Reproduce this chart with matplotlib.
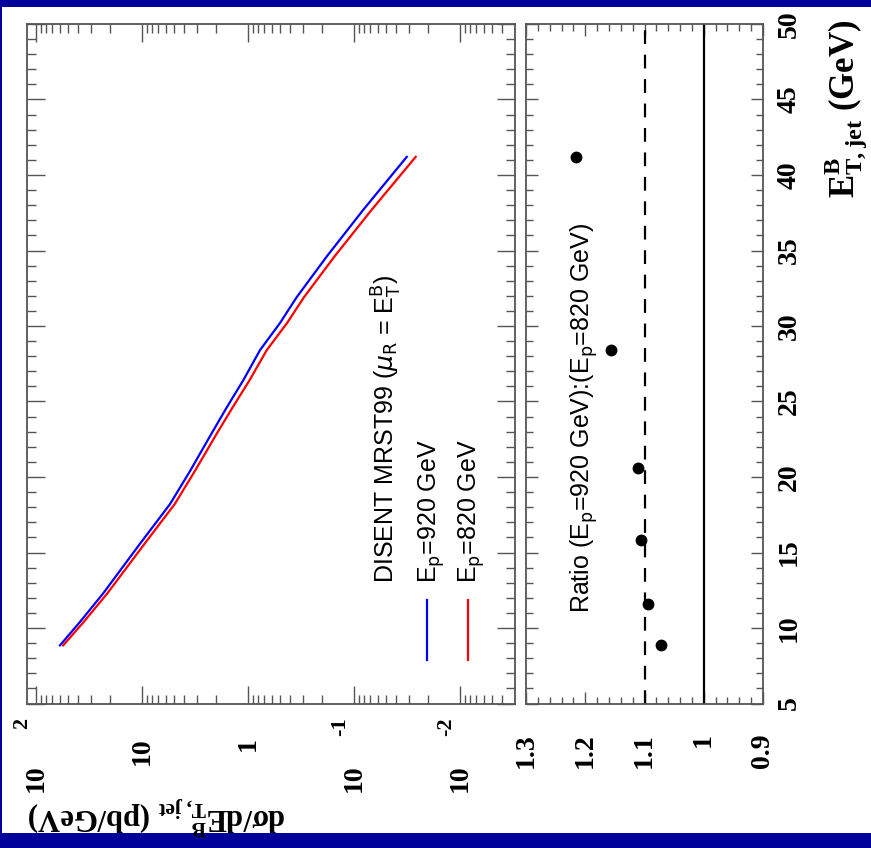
import numpy as np
import matplotlib
matplotlib.use('Agg')
import matplotlib.pyplot as plt
from matplotlib.patches import Rectangle
from matplotlib.ticker import LogLocator, MultipleLocator, NullFormatter

plt.rcParams['mathtext.fontset'] = 'custom'
plt.rcParams['mathtext.rm'] = 'Liberation Sans Narrow'
plt.rcParams['mathtext.it'] = 'Liberation Sans Narrow:italic'
plt.rcParams['mathtext.sf'] = 'Liberation Sans Narrow'
plt.rcParams['mathtext.bf'] = 'Liberation Serif:bold'

# DISENT NLO, MRST99, mu_R = E_T^B
et_curve = [8.85, 10.4, 12.3, 15.6, 18.2, 20.4, 22.9, 24.6, 26.4, 28.4,
            30.2, 31.9, 34.6, 37.7, 41.2]
xs_920 = [59.4, 38.5, 23.2, 10.4, 5.45, 3.52, 2.20, 1.59, 1.11, 0.771,
          0.499, 0.348, 0.181, 0.0817, 0.0318]
xs_820 = [55.4, 35.5, 21.2, 9.41, 4.92, 3.17, 1.96, 1.40, 0.969, 0.666,
          0.428, 0.297, 0.153, 0.0681, 0.0262]

# ratio 920 GeV : 820 GeV at the bin centres
et_ratio = [8.85, 11.6, 15.8, 20.6, 28.4, 41.2]
ratio = [1.072, 1.094, 1.106, 1.111, 1.157, 1.216]

log_ticks = [100, 10, 1, 0.1, 0.01]
log_labels = [('10', '2'), ('10', ''), ('1', ''), ('10', '-1'), ('10', '-2')]
ratio_ticks = [1.3, 1.2, 1.1, 1.0, 0.9]
ratio_labels = ['1.3', '1.2', '1.1', '1', '0.9']
et_ticks = [5, 10, 15, 20, 25, 30, 35, 40, 45, 50]

W, H = 871, 848
PT = 0.72  # points per pixel at dpi 100
navy = '#00009a'
frame = '#555555'
serif = 'Liberation Serif'
narrow = ['Liberation Sans Narrow', 'Liberation Sans', 'DejaVu Sans']

fig = plt.figure(figsize=(W / 100, H / 100), dpi=100, facecolor=navy)
fig.add_artist(Rectangle((2 / W, 15 / H), 869 / W, 826 / H,
                         transform=fig.transFigure, facecolor='white',
                         edgecolor='none', zorder=-10))


def px_axes(x0, x1, y0, y1):
    return fig.add_axes([x0 / W, 1 - y1 / H, (x1 - x0) / W, (y1 - y0) / H])


ax = px_axes(27, 515, 24, 703.5)
ax2 = px_axes(526, 763, 24, 703.5)

for a in (ax, ax2):
    a.set_facecolor('white')
    a.set_ylim(5, 50)
    a.yaxis.set_major_locator(MultipleLocator(5))
    a.yaxis.set_minor_locator(MultipleLocator(1))
    for s in a.spines.values():
        s.set_color(frame)
        s.set_linewidth(1.3)
    a.tick_params(which='both', direction='in', top=True, bottom=True,
                  left=True, right=True, labelbottom=False, labelleft=False,
                  color=frame, width=1.0)

# cross section panel
ax.set_xscale('log')
ax.set_xlim(121.6, 0.00303)
ax.xaxis.set_major_locator(LogLocator(base=10, numticks=12))
ax.xaxis.set_minor_locator(LogLocator(base=10, subs=np.arange(2, 10), numticks=12))
ax.xaxis.set_minor_formatter(NullFormatter())
ax.tick_params(which='major', length=18 * PT)
ax.tick_params(which='minor', length=9 * PT)

ax.plot(xs_920, et_curve, color='#0000ff', lw=1.6)
ax.plot(xs_820, et_curve, color='#ff0000', lw=1.6)

ax.plot([0.8197, 0.8197], [0.0633, 0.1517], transform=ax.transAxes,
        color='#0000ff', lw=1.6)
ax.plot([0.9037, 0.9037], [0.0633, 0.1517], transform=ax.transAxes,
        color='#ff0000', lw=1.6)
legend_rows = [(395, r'DISENT MRST99 ($\mu_\mathrm{R}$ = E$_\mathrm{T}^\mathrm{B}$)'),
               (437, r'E$_\mathrm{p}$=920 GeV'),
               (477, r'E$_\mathrm{p}$=820 GeV')]
for xb, txt in legend_rows:
    ax.text((xb - 27) / 488, (703.5 - 583) / 679.5, txt, transform=ax.transAxes,
            rotation=90, rotation_mode='anchor', ha='left', va='baseline',
            fontsize=18, family=narrow)

for v, (base, exp) in zip(log_ticks, log_labels):
    off = -34 if not exp else -61
    ax.annotate(base, xy=(v, 0), xycoords=('data', 'axes fraction'),
                xytext=(0, off * PT), textcoords='offset points',
                rotation=90, ha='center', va='top', fontsize=20,
                family=serif, weight='bold', annotation_clip=False)
    if exp:
        ax.annotate(exp, xy=(v, 0), xycoords=('data', 'axes fraction'),
                    xytext=(-14 * PT, -14 * PT), textcoords='offset points',
                    rotation=90, ha='center', va='top', fontsize=16,
                    family=serif, weight='bold', annotation_clip=False)

# ratio panel
ax2.set_xlim(1.3, 0.9)
ax2.xaxis.set_major_locator(MultipleLocator(0.1))
ax2.xaxis.set_minor_locator(MultipleLocator(0.02))
ax2.tick_params(which='major', length=12 * PT)
ax2.tick_params(which='minor', length=7 * PT)
ax2.axvline(1.0, color='black', lw=1.6)
ax2.axvline(1.1, color='black', lw=1.6, ls=(0, (6.2, 4.8)))
ax2.plot(ratio, et_ratio, 'o', color='black', ms=7.5)
ax2.text((590 - 526) / 237, (703.5 - 613) / 679.5,
         r'Ratio (E$_\mathrm{p}$=920 GeV):(E$_\mathrm{p}$=820 GeV)',
         transform=ax2.transAxes, rotation=90, rotation_mode='anchor',
         ha='left', va='baseline', fontsize=18, family=narrow)

for v, lab in zip(ratio_ticks, ratio_labels):
    ax2.annotate(lab, xy=(v, 0), xycoords=('data', 'axes fraction'),
                 xytext=(0, -30 * PT), textcoords='offset points',
                 rotation=90, ha='center', va='top', fontsize=20,
                 family=serif, weight='bold', annotation_clip=False)
for e in et_ticks:
    ax2.annotate(str(e), xy=(1, e), xycoords=('axes fraction', 'data'),
                 xytext=(14 * PT, 0), textcoords='offset points',
                 rotation=90, ha='left', va='center', fontsize=20,
                 family=serif, weight='bold', annotation_clip=False)

# axis titles
fig.text(846 / W, 1 - 20 / H, r'$\mathbf{E^{B}_{T,jet}}$ (GeV)', rotation=90,
         ha='center', va='top', fontsize=25, family=serif, weight='bold')
fig.text(28 / W, 1 - 815 / H, r'$\mathbf{d\sigma/dE^{B}_{T,jet}}$ (pb/GeV)',
         rotation=180, ha='left', va='center', fontsize=22, family=serif,
         weight='bold')

fig.savefig('out.png', dpi=100, facecolor=navy)
